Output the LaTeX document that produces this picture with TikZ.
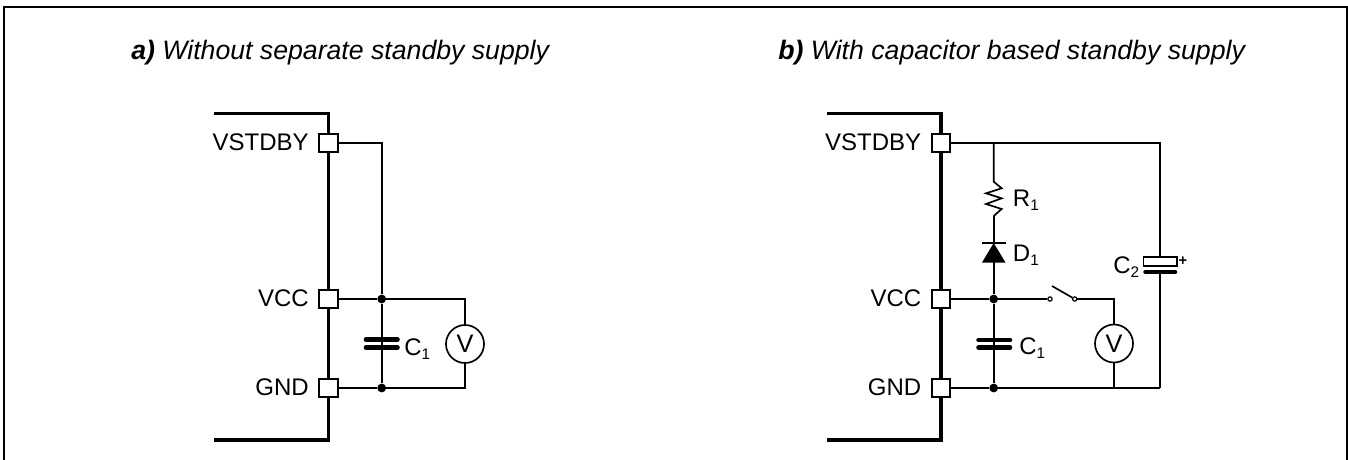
\documentclass[tikz,border=0pt]{standalone}
\usepackage{fontspec}
\setmainfont{Liberation Sans}
\newcommand{\subs}[1]{\raisebox{-3pt}{\fontsize{11.5}{12}\selectfont #1}}
\tikzset{
  wire/.style={line width=1.25pt,black},
  chip/.style={line width=2.6pt,black,line join=miter},
  frameline/.style={line width=1.7pt,black},
  pin/.style={draw,fill=white,line width=1.25pt,minimum size=13.8pt,inner sep=0pt,rectangle},
  dotnode/.style={circle,fill=black,minimum size=6.6pt,inner sep=0pt},
  term/.style={circle,draw,fill=white,line width=0.9pt,minimum size=3.2pt,inner sep=0pt},
  meter/.style={circle,draw,fill=white,line width=1.25pt,minimum size=28.5pt,inner sep=0pt,font=\fontsize{19}{20}\selectfont},
  lab/.style={font=\fontsize{18}{20}\selectfont,inner sep=0pt},
  pinlab/.style={lab,anchor=base east},
  partlab/.style={lab,anchor=base west},
  title/.style={font=\fontsize{20}{22}\selectfont\itshape,inner sep=0pt,anchor=base west},
  plate/.style={line width=3.4pt,line cap=round,black},
}
\begin{document}
\begin{tikzpicture}[x=0.75pt,y=-0.75pt]
\useasboundingbox (0,0) rectangle (1348,460);
\draw[frameline] (4,460) -- (4,7) -- (1347,7) -- (1347,460);
\node[title] (ta) at (131,60) {\textbf{a)} Without separate standby supply};
\node[title] (tb) at (778,60) {\textbf{b)} With capacitor based standby supply};

% ---- a)
\coordinate (atl) at (214,113.5);
\coordinate (atc) at (328.5,113.5);
\coordinate (abc) at (328.5,440);
\coordinate (abl) at (214,440);
\draw[chip] (atl) -- (atc) -- (abc) -- (abl);
\node[pin] (ap1) at (328.5,143) {};
\node[pin] (ap2) at (328.5,299) {};
\node[pin] (ap3) at (328.5,388) {};
\node[pinlab] (al1) at (309,150) {VSTDBY};
\node[pinlab] (al2) at (309,306.5) {VCC};
\node[pinlab] (al3) at (309,395.5) {GND};
\coordinate (ac0) at (381.7,143);
\node[dotnode] (ad1) at (381.7,299) {};
\node[dotnode] (ad2) at (381.7,388) {};
\coordinate (arv1) at (465,299);
\coordinate (arv2) at (465,388);
\node[meter] (av) at (465,344) {V};
\draw[wire] (ap1.east) -- (ac0) -- (ad1);
\draw[wire] (ap2.east) -- (ad1) -- (arv1) -- (av.north);
\draw[wire] (ap3.east) -- (ad2) -- (arv2) -- (av.south);
\draw[wire] (ad1) -- (ad2);
\coordinate (acal) at (366,339.5);
\coordinate (acar) at (397.5,339.5);
\coordinate (acbl) at (366,347.5);
\coordinate (acbr) at (397.5,347.5);
\draw[plate] (acal) -- (acar);
\draw[plate] (acbl) -- (acbr);
\node[partlab] (ac1) at (404,355) {C\subs{1}};

% ---- b)
\coordinate (btl) at (827,113.5);
\coordinate (btc) at (941,113.5);
\coordinate (bbc) at (941,440);
\coordinate (bbl) at (827,440);
\draw[chip] (btl) -- (btc) -- (bbc) -- (bbl);
\node[pin] (bp1) at (941,143) {};
\node[pin] (bp2) at (941,299) {};
\node[pin] (bp3) at (941,388) {};
\node[pinlab] (bl1) at (921.5,150) {VSTDBY};
\node[pinlab] (bl2) at (921.5,306.5) {VCC};
\node[pinlab] (bl3) at (921.5,395.5) {GND};
\coordinate (bj) at (993.7,143);
\coordinate (bc2t) at (1160,143);
\coordinate (bc2b) at (1160,388);
\node[dotnode] (bd1) at (993.7,299) {};
\node[dotnode] (bd2) at (993.7,388) {};
\node[term] (bs1) at (1050,299) {};
\node[term] (bs2) at (1074.7,299) {};
\coordinate (bvt) at (1114,299);
\coordinate (bvb) at (1114,388);
\node[meter] (bv) at (1114,343.5) {V};
% resistor
\coordinate (brt) at (993.7,181.7);
\coordinate (brb) at (993.7,216);
\draw[wire] (bj) -- (brt) -- (1001.7,188.3) -- (986,193.3) -- (1001.7,198.3) -- (986,204) -- (1001.7,209) -- (brb);
% diode
\coordinate (bdt) at (993.7,243);
\coordinate (bdb) at (993.7,262);
\draw[wire] (brb) -- (bdt);
\draw[line width=1.4pt] (982,243) -- (1005.5,243);
\fill[black] (bdt) -- (1005.5,262.5) -- (982,262.5) -- cycle;
\draw[wire] (bdb) -- (bd1);
\draw[wire] (bp1.east) -- (bj) -- (bc2t) -- (1160,257);
% C2
\node[draw,fill=white,line width=1.25pt,minimum width=25pt,minimum height=6.8pt,inner sep=0pt,rectangle] (bc2p) at (1160,261.5) {};
\coordinate (bc2l) at (1145.5,272);
\coordinate (bc2r) at (1175,272);
\draw[plate] (bc2l) -- (bc2r);
\draw[wire] (1160,272) -- (bc2b);
\node[lab,font=\bfseries\fontsize{11}{12}\selectfont] (bplus) at (1183,261) {+};
\node[partlab] (bc2) at (1113,273) {C\subs{2}};
% wires
\draw[wire] (bp2.east) -- (bd1) -- (bs1);
\coordinate (bblade) at (1052,286);
\draw[wire] (bblade) -- (bs2);
\draw[wire] (bs2) -- (bvt) -- (bv.north);
\draw[wire] (bp3.east) -- (bd2) -- (bvb) -- (bc2b);
\draw[wire] (bv.south) -- (bvb);
\draw[wire] (bd1) -- (bd2);
\coordinate (bcal) at (978.5,340);
\coordinate (bcar) at (1010,340);
\coordinate (bcbl) at (978.5,347.5);
\coordinate (bcbr) at (1010,347.5);
\draw[plate] (bcal) -- (bcar);
\draw[plate] (bcbl) -- (bcbr);
\node[partlab] (bc1) at (1019,354.5) {C\subs{1}};
\node[partlab] (br1) at (1012.7,206) {R\subs{1}};
\node[partlab] (bd1l) at (1012.7,261.5) {D\subs{1}};
\end{tikzpicture}
\end{document}
